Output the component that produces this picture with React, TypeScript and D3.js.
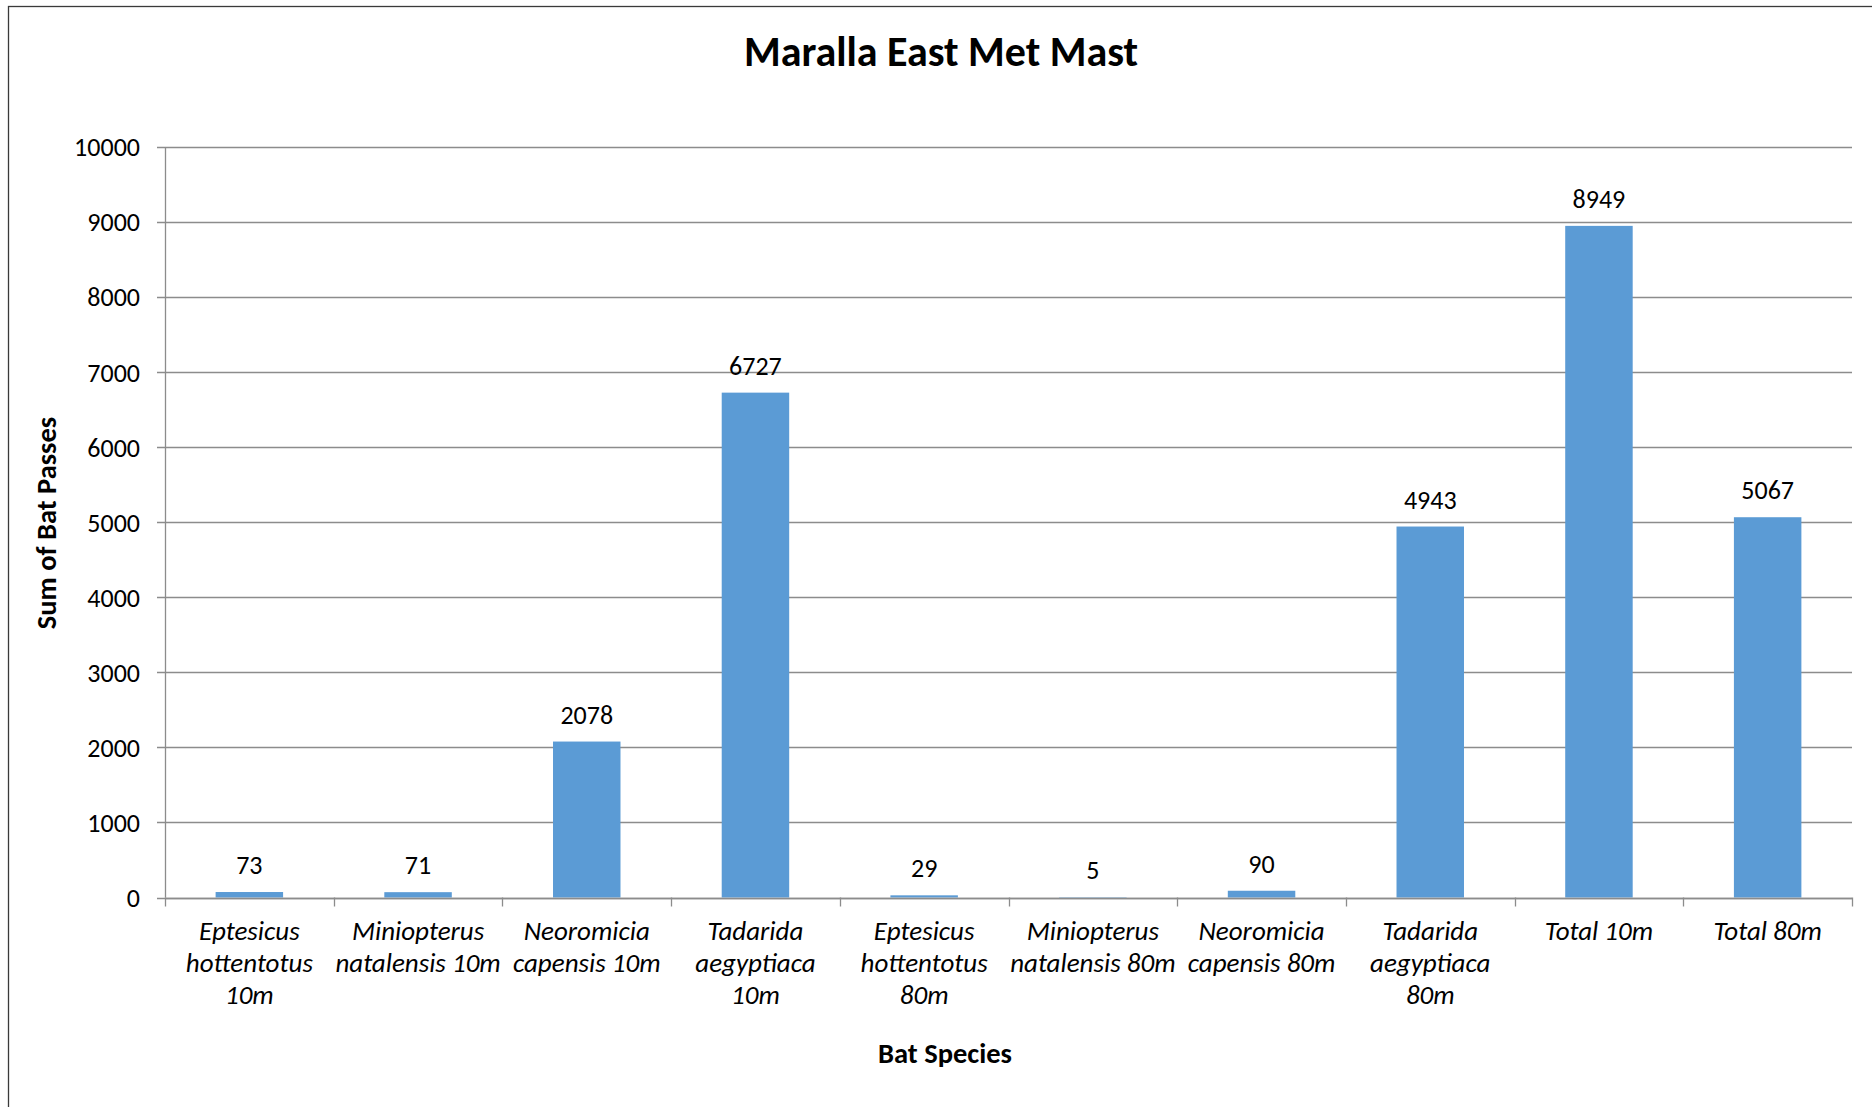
import React, { useRef, useEffect } from "react";
import * as d3 from "d3";

const categories = [
  "Eptesicus hottentotus 10m",
  "Miniopterus natalensis 10m",
  "Neoromicia capensis 10m",
  "Tadarida aegyptiaca 10m",
  "Eptesicus hottentotus 80m",
  "Miniopterus natalensis 80m",
  "Neoromicia capensis 80m",
  "Tadarida aegyptiaca 80m",
  "Total 10m",
  "Total 80m",
];

// how Excel wrapped the category labels
const labelLines = [
  ["Eptesicus", "hottentotus", "10m"],
  ["Miniopterus", "natalensis 10m"],
  ["Neoromicia", "capensis 10m"],
  ["Tadarida", "aegyptiaca", "10m"],
  ["Eptesicus", "hottentotus", "80m"],
  ["Miniopterus", "natalensis 80m"],
  ["Neoromicia", "capensis 80m"],
  ["Tadarida", "aegyptiaca", "80m"],
  ["Total 10m"],
  ["Total 80m"],
];

const batPasses = [73, 71, 2078, 6727, 29, 5, 90, 4943, 8949, 5067];

const yTicks = [0, 1000, 2000, 3000, 4000, 5000, 6000, 7000, 8000, 9000, 10000];

const FONT = "Calibri, Carlito, Lato, 'Open Sans', sans-serif";

function App() {
  const svgRef = useRef<SVGSVGElement>(null);

  useEffect(() => {
    const width = 1872,
      height = 1107;
    const left = 165,
      right = 1852,
      top = 147,
      bottom = 897.5;

    const svg = d3.select(svgRef.current);
    svg.selectAll("*").remove();

    svg
      .append("rect")
      .attr("width", width)
      .attr("height", height)
      .attr("fill", "#fff");

    // chart area border (right and bottom fall outside the picture)
    svg
      .append("rect")
      .attr("x", 8.5)
      .attr("y", 6.5)
      .attr("width", width + 50)
      .attr("height", height + 50)
      .attr("fill", "none")
      .attr("stroke", "#3a3a3a")
      .attr("stroke-width", 1.3);

    const x = d3.scaleBand().domain(categories).range([left, right]).paddingInner(0).paddingOuter(0);
    const y = d3.scaleLinear().domain([0, 10000]).range([bottom, top]);

    // gridlines + y ticks
    svg
      .append("g")
      .selectAll("line")
      .data(yTicks)
      .enter()
      .append("line")
      .attr("x1", left - 8)
      .attr("x2", right)
      .attr("y1", (d) => Math.round(y(d)) + 0.5)
      .attr("y2", (d) => Math.round(y(d)) + 0.5)
      .attr("stroke", "#8c8c8c")
      .attr("stroke-width", 1.3);

    svg
      .append("line")
      .attr("x1", left + 0.5)
      .attr("x2", left + 0.5)
      .attr("y1", top)
      .attr("y2", bottom)
      .attr("stroke", "#8c8c8c")
      .attr("stroke-width", 1.3);

    svg
      .append("g")
      .selectAll("text")
      .data(yTicks)
      .enter()
      .append("text")
      .attr("x", left - 25)
      .attr("y", (d) => y(d))
      .attr("dy", "0.36em")
      .attr("text-anchor", "end")
      .attr("font-family", FONT)
      .attr("font-size", 26)
      .attr("fill", "#000")
      .text((d) => d);

    // bars
    const barW = x.bandwidth() / 2.5;
    svg
      .append("g")
      .selectAll("rect")
      .data(batPasses)
      .enter()
      .append("rect")
      .attr("x", (d, i) => x(categories[i])! + (x.bandwidth() - barW) / 2)
      .attr("y", (d) => y(d))
      .attr("width", barW)
      .attr("height", (d) => bottom - y(d))
      .attr("fill", "#5b9bd5");

    // x axis line + ticks at band edges
    svg
      .append("line")
      .attr("x1", left)
      .attr("x2", right)
      .attr("y1", Math.round(bottom) + 0.5)
      .attr("y2", Math.round(bottom) + 0.5)
      .attr("stroke", "#8c8c8c")
      .attr("stroke-width", 1.3);

    const edges = categories.map((c) => x(c)!).concat([right]);
    svg
      .append("g")
      .selectAll("line")
      .data(edges)
      .enter()
      .append("line")
      .attr("x1", (d) => Math.round(d) + 0.5)
      .attr("x2", (d) => Math.round(d) + 0.5)
      .attr("y1", bottom)
      .attr("y2", bottom + 9)
      .attr("stroke", "#8c8c8c")
      .attr("stroke-width", 1.3);

    // data labels
    svg
      .append("g")
      .selectAll("text")
      .data(batPasses)
      .enter()
      .append("text")
      .attr("x", (d, i) => x(categories[i])! + x.bandwidth() / 2)
      .attr("y", (d) => y(d) - 18)
      .attr("text-anchor", "middle")
      .attr("font-family", FONT)
      .attr("font-size", 26)
      .attr("fill", "#000")
      .text((d) => d);

    // category labels
    const cat = svg
      .append("g")
      .selectAll("text")
      .data(categories)
      .enter()
      .append("text")
      .attr("text-anchor", "middle")
      .attr("font-family", FONT)
      .attr("font-style", "italic")
      .attr("font-size", 27)
      .attr("fill", "#000");
    cat
      .selectAll("tspan")
      .data((d, i) => labelLines[i].map((l) => ({ l, cx: x(d)! + x.bandwidth() / 2 })))
      .enter()
      .append("tspan")
      .attr("x", (d) => d.cx)
      .attr("y", (d, j) => 940 + j * 32)
      .text((d) => d.l);

    // titles
    svg
      .append("text")
      .attr("x", 941)
      .attr("y", 66)
      .attr("text-anchor", "middle")
      .attr("font-family", FONT)
      .attr("font-weight", "bold")
      .attr("font-size", 42)
      .text("Maralla East Met Mast");

    svg
      .append("text")
      .attr("transform", "translate(56, 523) rotate(-90)")
      .attr("text-anchor", "middle")
      .attr("font-family", FONT)
      .attr("font-weight", "bold")
      .attr("font-size", 28.5)
      .text("Sum of Bat Passes");

    svg
      .append("text")
      .attr("x", 945)
      .attr("y", 1063)
      .attr("text-anchor", "middle")
      .attr("font-family", FONT)
      .attr("font-weight", "bold")
      .attr("font-size", 28.5)
      .text("Bat Species");
  }, []);

  return (
    <svg
      ref={svgRef}
      width={1872}
      height={1107}
      style={{ position: "absolute", left: 0, top: 0, display: "block" }}
    ></svg>
  );
}

export default App;
